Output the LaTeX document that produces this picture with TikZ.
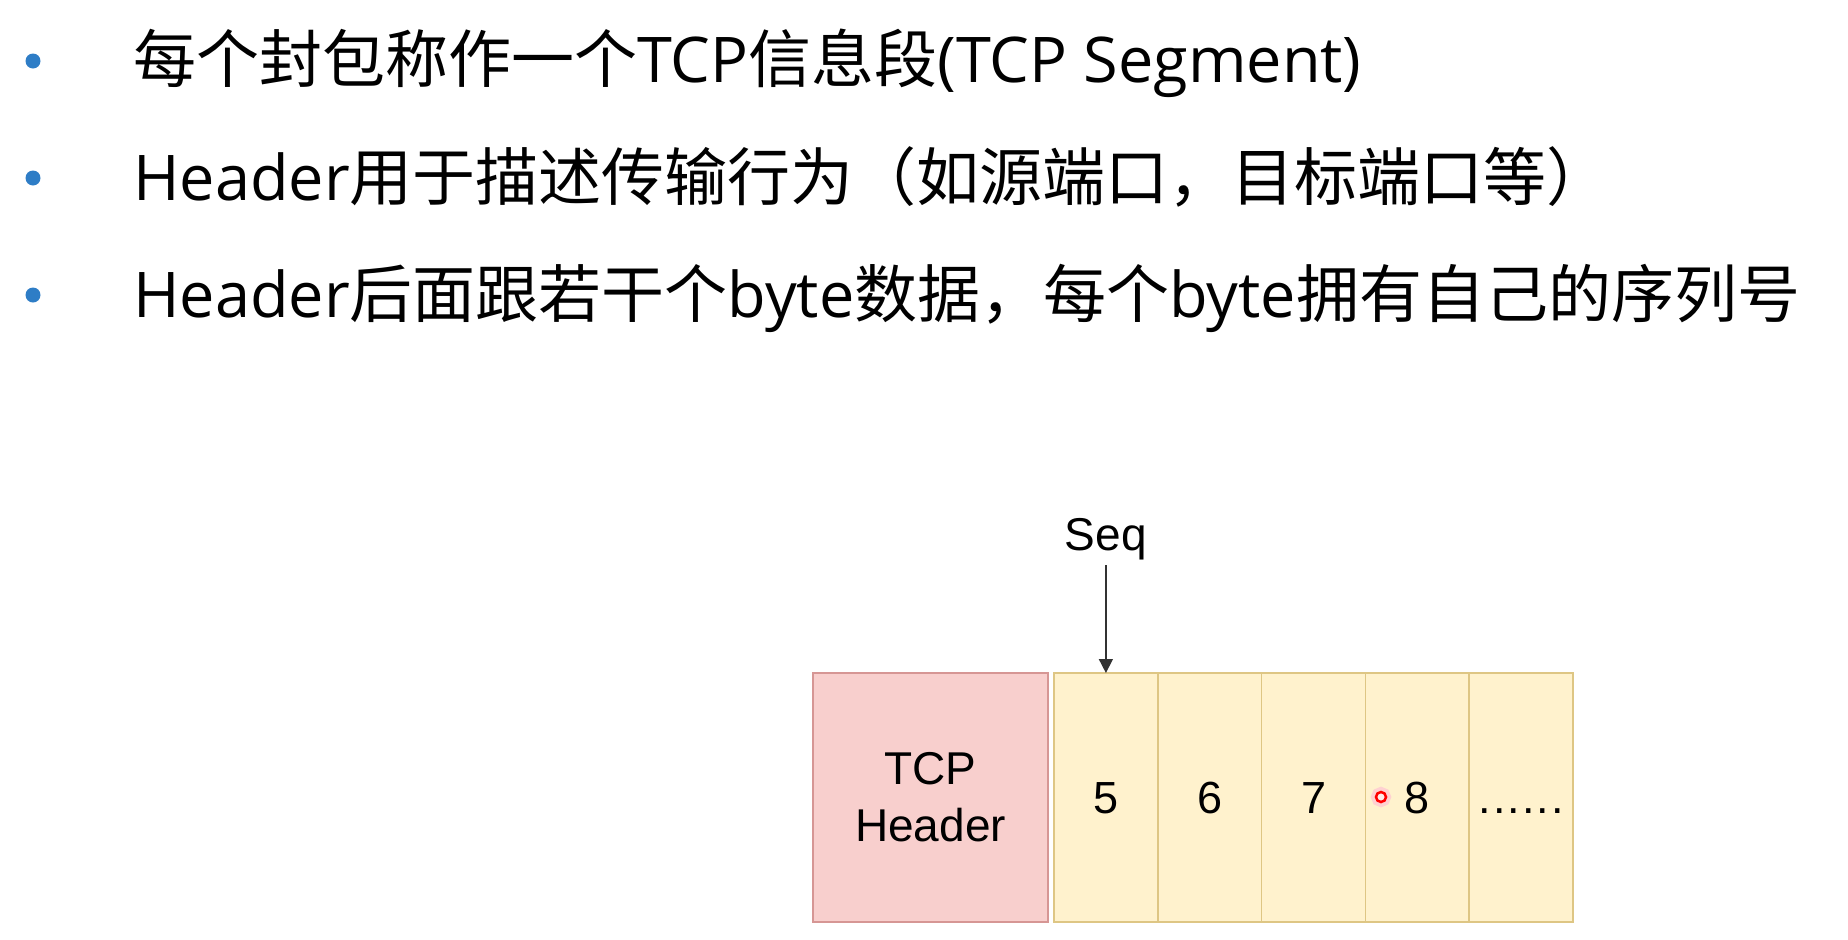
\documentclass[tikz,border=0pt]{standalone}
\usepackage{fontspec}
\setmainfont{Open Sans}
\newfontfamily\cjk{Noto Sans CJK SC}
\newfontfamily\arial{Liberation Sans}
\usetikzlibrary{positioning,arrows.meta}
\definecolor{dotblue}{RGB}{46,125,198}
\definecolor{hdrfill}{RGB}{248,207,205}
\definecolor{hdrline}{RGB}{214,150,148}
\definecolor{bytefill}{RGB}{255,242,205}
\definecolor{byteline}{RGB}{222,198,132}
\definecolor{arrowgray}{RGB}{50,50,50}

\begin{document}
\begin{tikzpicture}[x=1pt, y=-1pt,
dot/.style={circle, fill=dotblue, inner sep=0pt, minimum size=15pt},
point/.style={anchor=base west, inner sep=0pt, font=\fontsize{63}{70}\selectfont},
header/.style={rectangle, draw=hdrline, fill=hdrfill, line width=1.5pt, minimum width=235pt, minimum height=249pt, inner sep=0pt, outer sep=0pt, align=center, font=\arial\fontsize{46}{57}\selectfont},
byte/.style={rectangle, draw=byteline, fill=bytefill, line width=1.5pt, minimum width=103.8pt, minimum height=249pt, inner sep=0pt, outer sep=0pt, text height=32pt, text depth=0pt, font=\arial\fontsize{45}{50}\selectfont},
seqlabel/.style={inner sep=5pt, font=\arial\fontsize{46}{50}\selectfont},
seqarrow/.style={draw=arrowgray, line width=1.5pt, -{Triangle[length=14pt, width=14pt]}},
pointer/.style={circle, draw=red, line width=2.5pt, minimum size=10pt, inner sep=0pt, fill=red!8, preaction={draw=red!18, line width=10pt}},
]
\useasboundingbox (0,0) rectangle (1848,940);

% the three points
\node[dot] (dot1) at (33,61) {};
\node[dot] (dot2) at (33,178) {};
\node[dot] (dot3) at (33,295) {};
\node[point] (line1) at (133,82) {{\cjk 每个封包称作一个}TCP{\cjk 信息段}(TCP Segment)};
\node[point] (line2) at (133,200) {Header{\cjk 用于描述传输行为（如源端口，目标端口等）}};
\node[point] (line3) at (133,317) {Header{\cjk 后面跟若干个}byte{\cjk 数据，每个}byte{\cjk 拥有自己的序列号}};

% the segment
\node[header] (hdr) at (930.5,797.5) {TCP\\Header};
\node[byte] (b5) [right=6pt of hdr] {5};
\node[byte] (b6) [right=0pt of b5] {6};
\node[byte] (b7) [right=0pt of b6] {7};
\node[byte] (b8) [right=0pt of b7] {8};
\node[byte] (more) [right=0pt of b8] {.\kern2pt.\kern2pt.\kern2pt.\kern2pt.\kern2pt.};

\node[seqlabel] (seq) [above=108pt of b5] {Seq};
\draw[seqarrow] (seq) -- (b5);

\node[pointer] (ptr) at (1381,797) {};
\end{tikzpicture}
\end{document}
